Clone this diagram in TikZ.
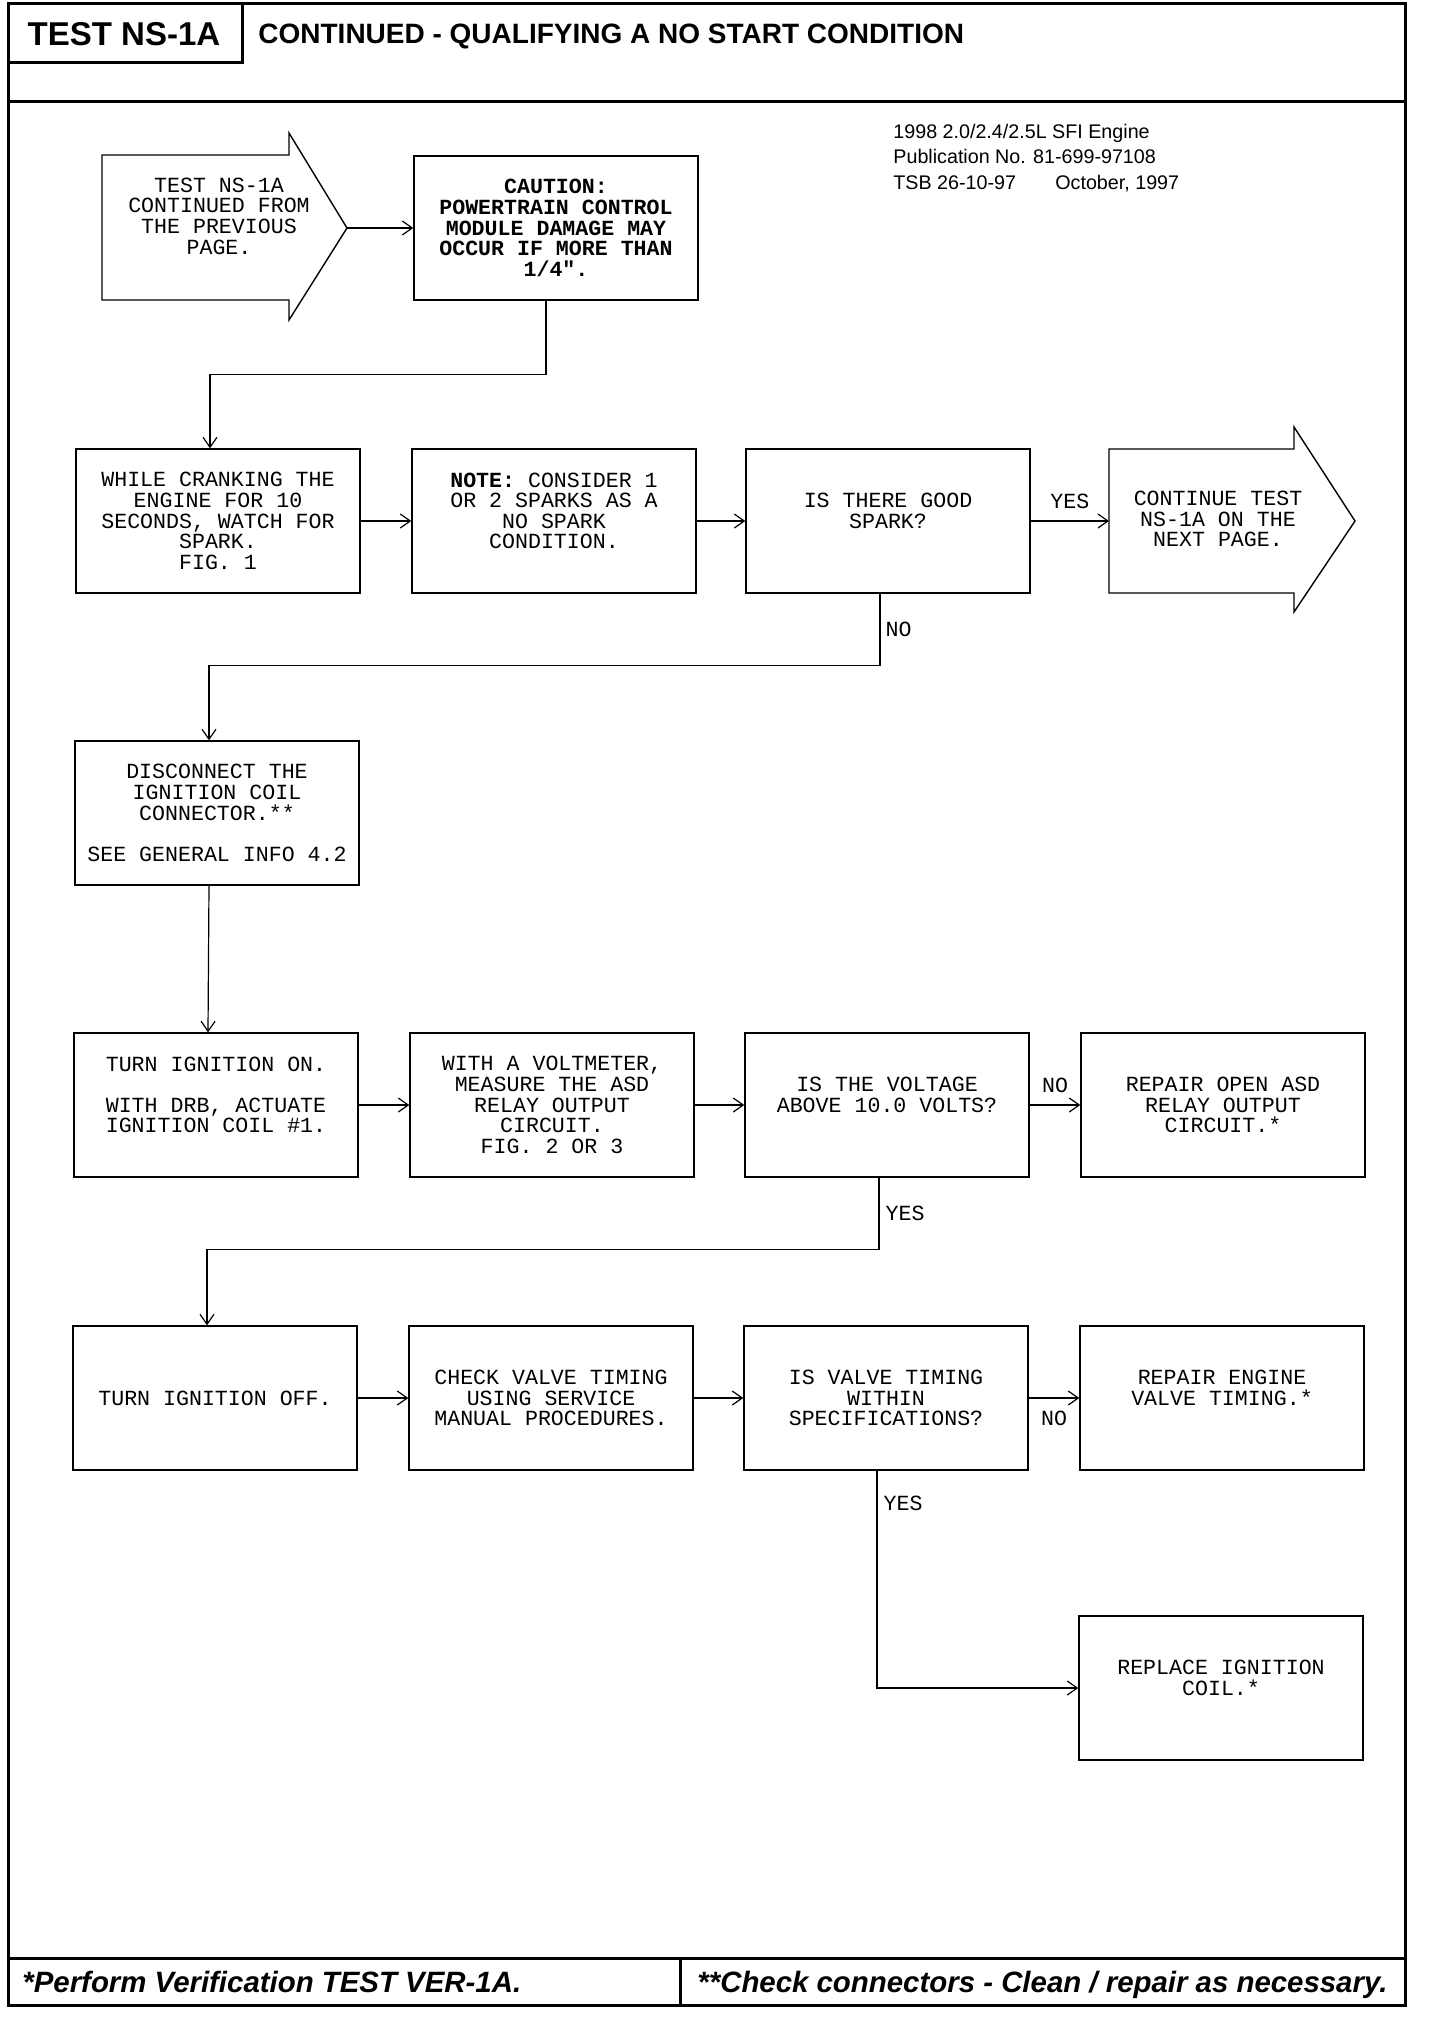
\documentclass[tikz,border=0pt]{standalone}
\usepackage{fontspec}
\setmainfont{Liberation Sans}
\newfontfamily\monofam{Liberation Mono}
\usetikzlibrary{arrows.meta,positioning}
\newcommand{\boxfont}{\monofam\fontsize{10.8pt}{10.3pt}\selectfont}
\tikzset{%
	stepbox/.style   = {draw, rectangle, line width=0.7pt, minimum width=142pt, minimum height=72pt, inner sep=0pt, align=center, font=\boxfont},
	tag/.style       = {font=\boxfont, inner sep=1pt},
	flowarrow/.style = {line width=0.6pt, -{Straight Barb[length=5pt,width=7pt]}},
	pagearrow/.style = {line width=0.7pt, line join=miter},
	frame/.style     = {line width=1.5pt},
	foot/.style      = {anchor=base west, inner sep=0pt, font=\bfseries\itshape\fontsize{14.7pt}{16pt}\selectfont},
}

\begin{document}
\begin{tikzpicture}[x=0.5pt, y=-0.5pt]
	\useasboundingbox (0,0) rectangle (1440,2020);
	\fill[white] (0,0) rectangle (1440,2020);
	
	% page frame, header and footer
	\draw[frame] (8,3) rectangle (1405,2005);
	\draw[frame] (8,101) -- (1405,101);
	\draw[frame] (242,3) -- (242,62) -- (8,62);
	\draw[frame] (8,1958) -- (1405,1958);
	\draw[frame] (680,1958) -- (680,2005);
	\node[font=\bfseries\fontsize{16.5pt}{18pt}\selectfont] (testid) at (124,34) {TEST NS-1A};
	\node[anchor=west, inner sep=0pt, font=\bfseries\fontsize{14pt}{16pt}\selectfont] (heading) at (258,36) {CONTINUED - QUALIFYING A NO START CONDITION};
	\node[anchor=north west, align=left, inner sep=0pt, font=\fontsize{9.85pt}{12.6pt}\selectfont] (pubinfo) at (893,124) {1998 2.0/2.4/2.5L SFI Engine\\Publication No. 81-699-97108\\\makebox[81pt][l]{TSB 26-10-97}October, 1997};
	\node[foot] (footone) at (22,1992) {*Perform Verification TEST VER-1A.};
	\node[foot] (foottwo) at (697,1992) {**Check connectors - Clean / repair as necessary.};
	
	% page arrows
	\draw[pagearrow] (102,155) -- (289,155) -- (289,133) -- (347,228) -- (289,320) -- (289,300) -- (102,300) -- cycle;
	\node[tag, align=center] (prevpage) at (219,216) {TEST NS-1A\\CONTINUED FROM\\THE PREVIOUS\\PAGE.};
	\coordinate (prevtip) at (347,228);
	\draw[pagearrow] (1109,449) -- (1294,449) -- (1294,427) -- (1355,521) -- (1294,612) -- (1294,593) -- (1109,593) -- cycle;
	\node[tag, align=center] (nextpage) at (1218,519) {CONTINUE TEST\\NS-1A ON THE\\NEXT PAGE.};
	\coordinate (nextin) at (1109,521);
	
	% steps
	\node[stepbox, font=\boxfont\bfseries] (caution) at (556,228) {CAUTION:\\POWERTRAIN CONTROL\\MODULE DAMAGE MAY\\OCCUR IF MORE THAN\\1/4".};
	\node[stepbox] (crank) at (218,521) {WHILE CRANKING THE\\ENGINE FOR 10\\SECONDS, WATCH FOR\\SPARK.\\FIG. 1};
	\node[stepbox] (note) at (554,521) {\textbf{NOTE:} CONSIDER 1\\OR 2 SPARKS AS A\\NO SPARK\\CONDITION.\\\mbox{}};
	\node[stepbox] (spark) at (888,521) {IS THERE GOOD\\SPARK?\\\mbox{}};
	\node[stepbox] (disconnect) at (217,813) {DISCONNECT THE\\IGNITION COIL\\CONNECTOR.**\\\mbox{}\\SEE GENERAL INFO 4.2};
	\node[stepbox] (ignon) at (216,1105) {TURN IGNITION ON.\\\mbox{}\\WITH DRB, ACTUATE\\IGNITION COIL \#1.\\\mbox{}};
	\node[stepbox] (voltmeter) at (552,1105) {WITH A VOLTMETER,\\MEASURE THE ASD\\RELAY OUTPUT\\CIRCUIT.\\FIG. 2 OR 3};
	\node[stepbox] (voltage) at (887,1105) {IS THE VOLTAGE\\ABOVE 10.0 VOLTS?\\\mbox{}};
	\node[stepbox] (repairasd) at (1223,1105) {REPAIR OPEN ASD\\RELAY OUTPUT\\CIRCUIT.*};
	\node[stepbox] (ignoff) at (215,1398) {TURN IGNITION OFF.};
	\node[stepbox] (checkvalve) at (551,1398) {CHECK VALVE TIMING\\USING SERVICE\\MANUAL PROCEDURES.};
	\node[stepbox] (valvespec) at (886,1398) {IS VALVE TIMING\\WITHIN\\SPECIFICATIONS?};
	\node[stepbox] (repairvalve) at (1222,1398) {REPAIR ENGINE\\VALVE TIMING.*\\\mbox{}};
	\node[stepbox] (replacecoil) at (1221,1688) {REPLACE IGNITION\\COIL.*\\\mbox{}};
	
	% connectors
	\draw[flowarrow] (prevtip) -- (caution);
	\draw[flowarrow] ([xshift=-5pt]caution.south) -- ++(0,74) -| ([xshift=-4pt]crank.north);
	\draw[flowarrow] (crank) -- (note);
	\draw[flowarrow] (note) -- (spark);
	\draw[flowarrow] (spark) -- node[tag, above=5pt] {YES} (nextin);
	\draw[flowarrow] ([xshift=-4pt]spark.south) -- node[tag, right=1.5pt] {NO} ++(0,72) -| ([xshift=-4pt]disconnect.north);
	\draw[flowarrow] ([xshift=-4pt]disconnect.south) -- ([xshift=-4pt]ignon.north);
	\draw[flowarrow] (ignon) -- (voltmeter);
	\draw[flowarrow] (voltmeter) -- (voltage);
	\draw[flowarrow] (voltage) -- node[tag, above=5pt] {NO} (repairasd);
	\draw[flowarrow] ([xshift=-4pt]voltage.south) -- node[tag, right=2pt] {YES} ++(0,72) -| ([xshift=-4pt]ignoff.north);
	\draw[flowarrow] (ignoff) -- (checkvalve);
	\draw[flowarrow] (checkvalve) -- (valvespec);
	\draw[flowarrow] (valvespec) -- node[tag, below=5pt] {NO} (repairvalve);
	\draw[flowarrow] ([xshift=-4.5pt]valvespec.south) |- node[tag, right=2pt, pos=0.074] {YES} (replacecoil);
\end{tikzpicture}
\end{document}
